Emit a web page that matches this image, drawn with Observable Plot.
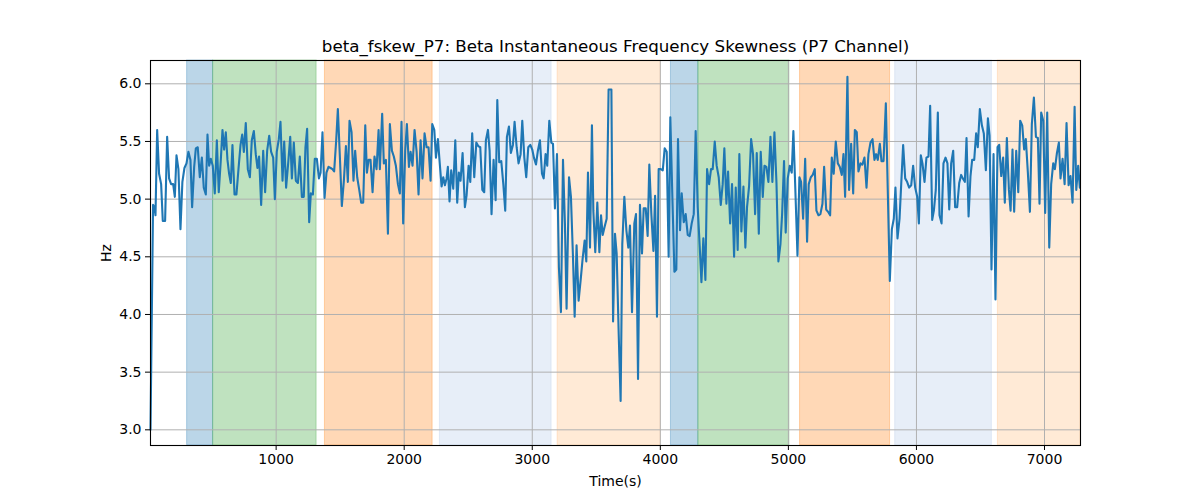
<!DOCTYPE html>
<html><head><meta charset="utf-8">
<script src="https://cdn.jsdelivr.net/npm/d3@7"></script>
<script src="https://cdn.jsdelivr.net/npm/@observablehq/plot@0.6"></script>
<style>
body{margin:0;background:#fff;}
#chart svg{font-family:"DejaVu Sans",sans-serif;}
</style>
</head><body><div id="chart"></div>
<script>
const title = "beta_fskew_P7: Beta Instantaneous Frequency Skewness (P7 Channel)";
const xLabel = "Time(s)";
const yLabel = "Hz";

const times = [
19,39,50,58,71,86,102,115,133,149,164,180,196,209,222,237,253,268,284,300,315,331,344,360,373,388,404,420,435,451,464,477,490,505,521,537,552,568,581,594,607,620,633,646,659,675,690,706,722,735,748,763,779,795,810,826,841,854,867,883,899,914,930,946,961,977,990,1005,1021,1034,1050,1063,1078,1094,1110,1123,1138,1154,1170,1185,1201,1216,1229,1242,1258,1271,1287,1302,1318,1334,1347,1362,1378,1393,1409,1425,1440,1453,1469,1482,1498,1513,1529,1545,1560,1573,1589,1604,1617,1633,1649,1664,1680,1696,1709,1722,1737,1753,1768,1784,1800,
1810,1828,1841,1857,1873,1888,1904,1919,1935,1951,1966,1979,1992,2008,2021,2037,2050,2065,2081,2097,2112,2128,2143,2159,2175,2190,2206,2219,2235,2248,2263,2279,2292,2305,2318,2331,2341,2354,2367,2383,2399,2414,2427,2440,2456,2474,2487,2503,2516,2531,2547,2563,2578,2594,2610,2625,2638,2654,2667,2682,2698,2714,2727,2742,2758,2774,2789,2802,2818,2833,2849,2862,2878,2893,2909,2922,2938,2953,2969,2985,3000,3013,3029,3044,3060,3076,3089,3104,3117,3133,3149,3162,3177,3193,3208,3224,3240,3255,3268,3287,3302,3318,3331,3346,3362,3378,3393,3409,3422,3435,3451,3466,3477,3492,3508,3524,3537,3550,3565,3581,3596,
3618,3631,3646,3659,3675,3690,3703,3719,3735,3750,3763,3779,3797,3810,3826,3841,3857,3870,3886,3901,3914,3930,3946,3959,3974,3987,4003,4019,4034,4050,4065,4078,4094,4110,4125,4138,4154,4167,4183,4198,4214,4229,4245,4261,4276,4292,4308,4321,4336,4352,4365,4381,4396,4409,4425,4440,4456,4472,4487,4500,4516,4529,4545,4560,4576,4589,4604,4617,4633,4649,4664,4677,4693,4709,4724,4740,4753,4769,4784,4800,4813,4828,4844,4860,4875,4891,4907,4922,4938,4951,4966,4979,4995,5011,5026,5039,5055,5071,5086,5099,5115,5131,5146,5159,5175,5190,5206,5219,5235,5250,5266,5279,5295,5310,5326,5339,5354,5370,5386,5401,
5417,5430,5443,5461,5474,5490,5506,5519,5534,5547,5563,5578,5594,5610,5625,5641,5657,5672,5685,5698,5714,5727,5743,5761,5776,5792,5808,5823,5836,5852,5868,5881,5896,5912,5927,5943,5959,5974,5990,6006,6019,6034,6047,6063,6078,6094,6107,6123,6136,6151,6167,6180,6196,6211,6227,6242,6256,6271,6287,6302,6318,6334,6349,6362,6378,6391,6407,6422,6435,6451,6466,6479,6495,6511,6526,6542,6558,6571,6586,6602,6617,6633,6646,6662,6677,6690,6706,6722,6735,6750,6763,6779,6795,6810,6826,6841,6854,6870,6886,6901,6917,6933,6948,6961,6974,6990,7005,7021,7037,7052,7068,7081,7097,7112,7125,7141,7157,7172,7188,7203,7219,7235,7248,7263,7276
];
const values = [
3.00,4.95,4.93,4.86,5.60,5.22,5.13,4.81,4.81,5.54,5.18,5.13,5.13,5.02,5.38,5.26,4.74,5.15,5.27,5.31,5.41,5.34,4.93,5.28,5.44,5.45,5.19,5.36,5.10,5.04,5.56,5.29,5.35,5.29,5.05,5.51,5.06,5.34,5.60,5.43,5.58,5.34,5.22,5.14,5.47,5.04,5.04,5.26,5.47,5.56,5.41,5.66,5.26,5.19,5.51,5.59,5.39,5.27,5.37,4.95,5.42,5.06,5.42,5.55,5.41,5.36,5.00,5.41,5.52,5.67,5.16,5.50,5.10,5.31,5.54,5.18,5.49,5.16,5.14,5.37,5.02,5.02,5.45,5.61,4.80,5.05,5.04,5.35,5.35,5.18,5.23,5.58,5.01,5.23,5.28,5.27,5.26,5.24,5.51,5.78,5.36,4.94,5.16,5.46,5.15,5.68,5.58,5.16,5.42,5.19,5.08,4.97,4.97,5.64,5.23,5.34,5.34,5.06,5.37,5.26,5.60,
5.26,5.74,5.31,5.34,4.70,5.65,5.42,5.37,5.29,5.13,5.05,5.67,4.79,5.42,5.65,5.28,5.41,5.29,5.60,5.41,5.04,5.51,5.18,5.57,5.45,5.45,5.16,5.65,5.60,5.36,5.52,5.29,5.11,5.19,5.12,5.18,5.28,4.98,5.25,5.09,5.51,4.97,5.23,5.16,5.40,4.93,5.03,5.29,5.15,5.57,5.19,5.49,5.46,5.45,5.08,5.06,5.51,5.60,5.42,4.87,5.34,4.99,5.86,5.32,5.33,5.13,4.90,5.54,5.63,5.40,5.47,5.67,5.45,5.31,5.39,5.68,5.36,5.19,5.45,5.47,5.43,5.36,5.30,5.42,5.51,5.22,5.18,5.39,5.29,5.68,5.49,5.48,4.92,5.39,4.41,4.02,5.34,4.79,4.05,5.19,5.02,4.50,3.98,4.60,4.12,4.30,4.48,4.64,4.46,5.23,4.58,5.64,4.90,4.54,4.97,4.54,4.86,4.69,4.76,4.83,5.95,
5.95,3.94,4.70,4.53,3.83,3.25,4.61,5.02,4.73,4.58,4.77,4.02,4.79,4.87,3.44,4.95,4.53,4.92,4.92,4.68,5.30,4.87,4.55,5.03,3.98,5.26,5.26,5.25,5.44,5.41,4.50,5.71,5.02,4.37,4.39,5.52,4.73,5.05,4.80,4.87,4.69,4.68,4.79,4.87,5.59,4.93,4.58,4.28,4.66,4.30,5.26,5.13,5.26,5.26,5.50,5.29,5.19,4.95,5.13,5.44,4.96,5.24,4.79,5.13,4.50,5.10,4.56,5.39,4.72,5.11,4.58,4.93,5.11,5.52,5.39,4.87,5.40,4.70,5.41,5.02,5.29,5.28,5.15,5.54,5.15,5.58,5.14,4.46,4.61,4.87,5.33,4.71,5.18,5.29,5.23,5.59,5.06,4.51,5.19,5.15,4.83,5.35,4.63,5.13,5.19,5.21,5.26,4.90,4.86,4.87,4.96,5.28,4.91,4.89,4.86,5.36,5.22,5.50,5.31,5.28,
5.21,5.39,5.02,6.06,5.08,5.48,5.05,5.60,5.58,5.24,5.31,5.30,5.36,5.10,5.39,5.49,5.52,5.34,5.39,5.34,5.48,5.33,5.33,5.83,5.08,4.29,4.74,4.83,5.10,4.66,4.83,5.13,5.47,5.18,5.15,5.10,5.12,5.29,5.10,5.02,4.79,5.38,5.31,5.15,5.36,5.37,5.81,4.82,4.90,5.08,5.75,4.86,4.79,5.31,5.36,5.31,4.91,5.31,5.42,4.93,4.93,5.14,5.21,5.18,5.15,5.53,4.85,5.20,5.34,5.34,5.57,5.45,5.78,5.64,5.57,5.25,5.70,5.55,4.39,5.39,4.13,5.45,5.47,5.20,5.36,4.97,5.53,5.08,4.90,5.43,4.89,5.42,5.06,5.68,5.64,5.43,5.52,5.23,4.89,5.65,5.88,5.54,5.53,4.96,5.75,5.68,4.88,5.75,4.58,5.13,5.31,5.26,5.40,5.49,5.18,5.35,5.13,5.66,5.12,5.20,4.97,5.80,5.08,5.29,5.10
];

const spanStart = [305, 508, 1381, 2279, 3198, 4083, 4297, 5091, 5834, 6636];
const spanEnd   = [508, 1316, 2222, 3151, 4003, 4297, 5008, 5794, 6589, 7281];
const spanPhase = ["A", "B", "C", "D", "E", "A", "B", "C", "D", "E"];

const xTicks = [1000, 2000, 3000, 4000, 5000, 6000, 7000];
const yTicks = [3.0, 3.5, 4.0, 4.5, 5.0, 5.5, 6.0];
const xDomain = [19, 7281];
const yDomain = [2.864, 6.202];

const series = times.map((t, i) => ({t, v: values[i]}));
const spans = spanStart.map((s, i) => ({s, e: spanEnd[i], p: spanPhase[i]}));
const phaseColor = {A: "#1f77b4", B: "#2ca02c", C: "#ff7f0e", D: "#aec7e8", E: "#ffbb78"};

const gridStyle = {stroke: "#b0b0b0", strokeOpacity: 1, strokeWidth: 1};

const chart = Plot.plot({
  width: 1200,
  height: 500,
  marginLeft: 150,
  marginRight: 120,
  marginTop: 60,
  marginBottom: 55,
  style: {fontFamily: "DejaVu Sans, sans-serif", fontSize: "14px", background: "#fff", color: "#000"},
  x: {domain: xDomain, label: null},
  y: {domain: yDomain, label: null},
  marks: [
    Plot.rect(spans, {x1: "s", x2: "e", fill: d => phaseColor[d.p], fillOpacity: 0.3,
      stroke: d => phaseColor[d.p], strokeOpacity: 0.3, strokeWidth: 1}),
    Plot.gridX(xTicks, gridStyle),
    Plot.gridY(yTicks, gridStyle),
    Plot.line(series, {x: "t", y: "v", stroke: "#1f77b4", strokeWidth: 2.1}),
    Plot.frame({stroke: "#000", strokeWidth: 1.1}),
    Plot.axisX(xTicks, {tickSize: 5, tickPadding: 4, fontSize: 14, label: null, tickFormat: d => String(d)}),
    Plot.axisY(yTicks, {tickSize: 5, tickPadding: 4, fontSize: 14, label: null, tickFormat: d => d.toFixed(1)}),
    Plot.text([title], {frameAnchor: "top", lineAnchor: "middle", dy: -14, fontSize: 16.7, fill: "#000"}),
    Plot.text([xLabel], {frameAnchor: "bottom", lineAnchor: "middle", dy: 36, fontSize: 14, fill: "#000"}),
    Plot.text([yLabel], {frameAnchor: "left", textAnchor: "middle", lineAnchor: "middle", dx: -44, rotate: -90, fontSize: 14, fill: "#000"})
  ]
});
document.getElementById("chart").appendChild(chart);
</script>
</body></html>
